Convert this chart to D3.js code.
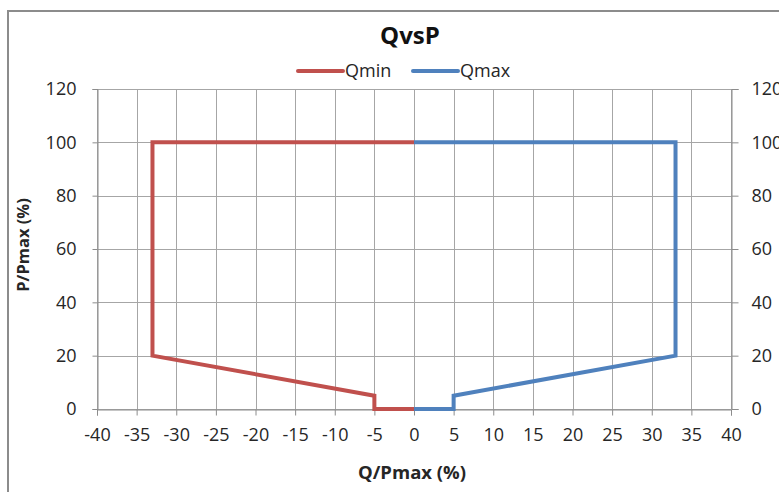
<!DOCTYPE html>
<html>
<head>
<meta charset="utf-8">
<script src="https://cdn.jsdelivr.net/npm/d3@7"></script>
<style>
  body { margin: 0; background: #fff; }
  svg { display: block; font-family: "Open Sans", sans-serif; }
</style>
</head>
<body>
<svg id="chart" width="779" height="492" viewBox="0 0 779 492"></svg>
<script>
// Series: [Q/Pmax, P/Pmax]
const qminPoints = [[0, 0], [-5, 0], [-5, 5], [-33, 20], [-33, 100], [0, 100]];
const qmaxPoints = [[0, 0], [5, 0], [5, 5], [33, 20], [33, 100], [0, 100]];
const seriesNames = ["Qmin", "Qmax"];
const seriesColors = ["#C0504D", "#4F81BD"];
const xTicks = [-40, -35, -30, -25, -20, -15, -10, -5, 0, 5, 10, 15, 20, 25, 30, 35, 40];
const yTicks = [0, 20, 40, 60, 80, 100, 120];

const svg = d3.select("#chart");
const margin = { top: 89, right: 48, bottom: 83, left: 97 };
const width = 779, height = 492;

const x = d3.scaleLinear().domain([-40, 40]).range([margin.left, width - margin.right]);
const y = d3.scaleLinear().domain([0, 120]).range([height - margin.bottom, margin.top]);

// chart frame (runs off the right and bottom edge)
svg.append("path")
    .attr("d", `M8,${height + 5}V11H${width + 5}`)
    .attr("fill", "none")
    .attr("stroke", "#8c8c8c")
    .attr("stroke-width", 2);

// gridlines
const grid = svg.append("g").attr("stroke", "#a6a6a6").attr("stroke-width", 1);
grid.selectAll("line.v")
    .data(xTicks)
    .join("line")
    .attr("x1", d => Math.round(x(d)) + 0.5)
    .attr("x2", d => Math.round(x(d)) + 0.5)
    .attr("y1", y(120))
    .attr("y2", y(0));
grid.selectAll("line.h")
    .data(yTicks)
    .join("line")
    .attr("class", "h")
    .attr("x1", x(-40))
    .attr("x2", x(40))
    .attr("y1", d => Math.round(y(d)) + 0.5)
    .attr("y2", d => Math.round(y(d)) + 0.5);

// axes
function styleAxis(g) {
    g.select(".domain").attr("stroke", "#8c8c8c");
    g.selectAll(".tick line").attr("stroke", "#8c8c8c");
    g.selectAll(".tick text")
        .attr("fill", "#262626")
        .attr("font-size", "18px")
        .attr("font-family", "Open Sans, sans-serif");
}

svg.append("g")
    .attr("transform", `translate(0,${Math.round(y(0)) + 0.5})`)
    .call(d3.axisBottom(x).tickValues(xTicks).tickSize(6).tickPadding(13).tickFormat(d3.format("d")))
    .call(styleAxis)
    .call(g => g.selectAll(".tick text").text(d => d < 0 ? "-" + Math.abs(d) : d));

svg.append("g")
    .attr("transform", `translate(${Math.round(x(-40)) + 0.5},0)`)
    .call(d3.axisLeft(y).tickValues(yTicks).tickSize(5).tickPadding(16))
    .call(styleAxis);

svg.append("g")
    .attr("transform", `translate(${Math.round(x(40)) + 0.5},0)`)
    .call(d3.axisRight(y).tickValues(yTicks).tickSize(7).tickPadding(13))
    .call(styleAxis);

// series
const line = d3.line().x(d => x(d[0])).y(d => y(d[1]));
[qminPoints, qmaxPoints].forEach((pts, i) => {
    svg.append("path")
        .datum(pts)
        .attr("d", line)
        .attr("fill", "none")
        .attr("stroke", seriesColors[i])
        .attr("stroke-width", 4)
        .attr("stroke-linejoin", "miter");
});

// title
svg.append("text")
    .attr("x", 410)
    .attr("y", 44)
    .attr("text-anchor", "middle")
    .attr("font-size", "24px")
    .attr("font-weight", "bold")
    .attr("fill", "#111")
    .text("QvsP");

// legend
const legend = svg.append("g");
const legendX = [298, 413];
seriesNames.forEach((name, i) => {
    legend.append("line")
        .attr("x1", legendX[i]).attr("x2", legendX[i] + 45)
        .attr("y1", 71).attr("y2", 71)
        .attr("stroke", seriesColors[i])
        .attr("stroke-width", 4)
        .attr("stroke-linecap", "round");
    legend.append("text")
        .attr("x", legendX[i] + 47)
        .attr("y", 77)
        .attr("font-size", "18px")
        .attr("fill", "#262626")
        .text(name);
});

// axis titles
svg.append("text")
    .attr("x", 412)
    .attr("y", 479)
    .attr("text-anchor", "middle")
    .attr("font-size", "18.5px")
    .attr("font-weight", "bold")
    .attr("fill", "#262626")
    .text("Q/Pmax (%)");

svg.append("text")
    .attr("transform", "translate(29,245) rotate(-90)")
    .attr("text-anchor", "middle")
    .attr("font-size", "16.5px")
    .attr("font-weight", "bold")
    .attr("fill", "#262626")
    .text("P/Pmax (%)");
</script>
</body>
</html>
